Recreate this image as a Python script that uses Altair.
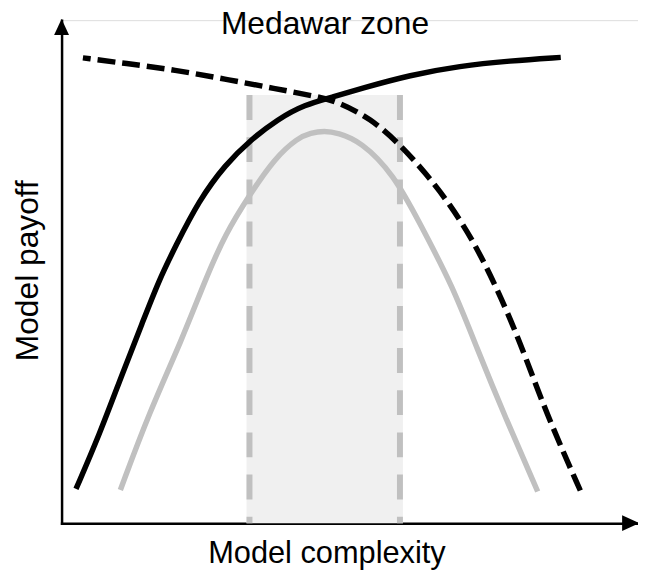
import altair as alt
import pandas as pd

# ---- data (x: model complexity, y: model payoff, 0-100 units)
fit_x = [2.5, 6.5, 10.6, 14.0, 16.9, 19.7, 23.8, 28.4, 32.9, 37.5, 42.1, 47.3, 51.9, 60.5, 69.1, 77.7, 86.6]
fit_y = [6.8, 17.4, 29.9, 39.8, 48.3, 54.9, 64.1, 71.3, 76.3, 80.3, 83.2, 84.8, 86.4, 89.1, 90.9, 91.9, 92.6]

cost_x = [3.7, 11.1, 19.7, 28.3, 37.0, 44.4, 47.8, 53.6, 58.7, 63.3, 67.3, 71.4, 75.4, 79.4, 84.0, 90.3]
cost_y = [92.5, 91.4, 90.1, 88.3, 86.4, 84.8, 83.8, 80.5, 75.3, 69.4, 63.5, 56.2, 47.0, 36.5, 22.0, 5.7]

net_x = [10.2, 15.2, 20.9, 24.9, 28.4, 32.7, 37.0, 41.0, 43.2, 45.6, 47.9, 51.9, 57.6, 62.2, 67.9, 71.9, 77.1, 82.6]
net_y = [6.6, 22.0, 36.5, 48.3, 57.5, 65.4, 72.6, 76.6, 77.6, 78.0, 77.6, 75.9, 69.4, 59.5, 47.0, 35.2, 20.7, 6.3]

zone_left = 32.6
zone_right = 58.7
zone_top = 85.1
axis_min = 0
axis_max = 100

title_text = "Medawar zone"
x_title = "Model complexity"
y_title = "Model payoff"

FONT = "Liberation Sans"

fit_df = pd.DataFrame({"x": fit_x, "y": fit_y})
cost_df = pd.DataFrame({"x": cost_x, "y": cost_y})
net_df = pd.DataFrame({"x": net_x, "y": net_y})

xs = alt.Scale(domain=[axis_min, axis_max], nice=False, zero=False)
ys = alt.Scale(domain=[axis_min, axis_max], nice=False, zero=False)

x_axis = alt.Axis(
    title=x_title, labels=False, ticks=False, grid=False, domain=True,
    domainColor="black", domainWidth=2.5, domainCap="square",
    titleFont=FONT, titleFontSize=31, titleFontWeight="normal", titleColor="black",
    titleX=267, titleY=40, titleAlign="center", titleBaseline="alphabetic",
)
y_axis = alt.Axis(
    title=y_title, labels=False, ticks=False, grid=False, domain=True,
    domainColor="black", domainWidth=2.5, domainCap="square",
    titleFont=FONT, titleFontSize=32, titleFontWeight="normal", titleColor="black",
    titleX=-24, titleY=252, titleAngle=270, titleAlign="center", titleBaseline="alphabetic",
)

zone_rect = alt.Chart().mark_rect(color="#f0f0f0", xOffset=-3, x2Offset=3).encode(
    x=alt.X(datum=zone_left, scale=xs, axis=x_axis),
    x2=alt.datum(zone_right),
    y=alt.Y(datum=zone_top, scale=ys, axis=y_axis),
    y2=alt.datum(axis_min),
)

zone_lines = alt.layer(*[
    alt.Chart().mark_rule(color="#c0c0c0", strokeWidth=6, strokeDash=[25, 17.5]).encode(
        x=alt.X(datum=v, scale=xs),
        y=alt.Y(datum=zone_top, scale=ys),
        y2=alt.datum(axis_min),
    )
    for v in (zone_left, zone_right)
])

net_line = alt.Chart(net_df).mark_line(
    color="#c0c0c0", strokeWidth=5.5, interpolate="basis"
).encode(x=alt.X("x:Q", scale=xs), y=alt.Y("y:Q", scale=ys))

fit_line = alt.Chart(fit_df).mark_line(
    color="black", strokeWidth=5.5, interpolate="basis"
).encode(x=alt.X("x:Q", scale=xs), y=alt.Y("y:Q", scale=ys))

cost_line = alt.Chart(cost_df).mark_line(
    color="black", strokeWidth=5.5, interpolate="basis",
    strokeDash=[18, 7], strokeDashOffset=10,
).encode(x=alt.X("x:Q", scale=xs), y=alt.Y("y:Q", scale=ys))

arrow_y = alt.Chart().mark_point(
    shape="M0,-0.15L-1,2L1,2Z", size=225, filled=True, color="black", opacity=1, strokeWidth=0
).encode(x=alt.X(datum=axis_min, scale=xs), y=alt.Y(datum=axis_max, scale=ys))

arrow_x = alt.Chart().mark_point(
    shape="M0.15,0L-2,-1L-2,1Z", size=256, filled=True, color="black", opacity=1, strokeWidth=0
).encode(x=alt.X(datum=axis_max, scale=xs), y=alt.Y(datum=axis_min, scale=ys))

chart = alt.layer(
    zone_rect, zone_lines, net_line, fit_line, cost_line, arrow_y, arrow_x
).properties(
    width=581,
    height=507,
    autosize=alt.AutoSizeParams(type="none"),
    padding={"left": 54, "top": 10, "right": 0, "bottom": 50},
    title=alt.TitleParams(
        text=title_text, font=FONT, fontSize=32, fontWeight="normal", color="black",
        anchor="middle", dx=-25, offset=-22,
    ),
).configure_view(stroke=None).configure(background="white")

chart.save("out.html", embed_options={"renderer": "svg", "actions": False})
